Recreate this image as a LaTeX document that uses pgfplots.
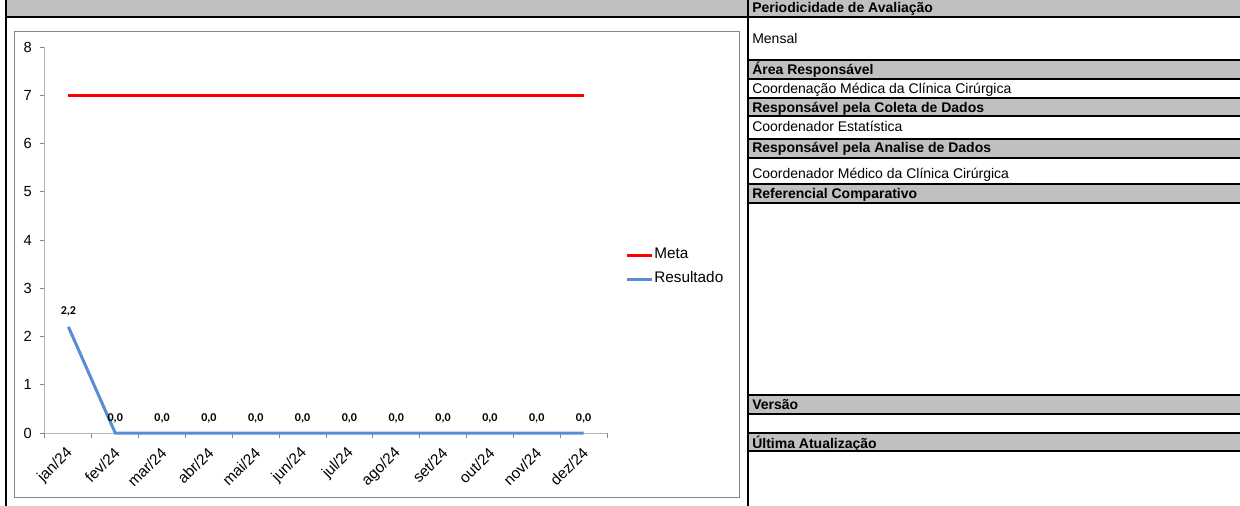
\documentclass[border=0pt]{standalone}
\usepackage{fontspec}
\setmainfont{Liberation Sans}
\newfontfamily\calibri{Carlito}
\usepackage{pgfplots}
\pgfplotsset{compat=1.18}

\definecolor{hdrgray}{RGB}{192,192,192}
\definecolor{axisgray}{RGB}{134,134,134}
\definecolor{framegray}{RGB}{134,134,134}
\definecolor{metared}{RGB}{255,0,0}
\definecolor{resblue}{RGB}{85,142,213}

\begin{document}
\begin{tikzpicture}
% sheet grid, in pixels of the reference (1px = 0.75pt, y down)
\begin{scope}[x=0.75pt,y=-0.75pt]
  \path[use as bounding box] (0,0) rectangle (1240,506);
  % gray bands
  \fill[hdrgray] (7,0) rectangle (1240,16);
  \foreach \a/\b in {61/78, 98/115, 139/157, 185/202, 396/413, 433/451}
    \fill[hdrgray] (748,\a) rectangle (1240,\b);
  % black rules
  \draw[line width=1.5pt] (5,16.8) -- (1240,16.8);
  \foreach \yy in {60,79,97.8,115.8,138.7,158,183.7,203,395,413.7,432.5,451}
    \draw[line width=1.5pt] (748,\yy) -- (1240,\yy);
  \draw[line width=1.5pt] (6,0) -- (6,506);
  \draw[line width=1.5pt] (747.5,0) -- (747.5,506);
  % chart frame
  \draw[framegray, line width=0.75pt] (14.5,31.5) rectangle (739.5,497.5);
  % panel text
  \begin{scope}[every node/.style={anchor=base west, inner sep=0pt, font=\fontsize{10.5}{12}\selectfont}]
    \node at (752,12.5) {\bfseries Periodicidade de Avaliação};
    \node at (752,44) {Mensal};
    \node at (752,74.5) {\bfseries Área Responsável};
    \node at (752,94) {Coordenação Médica da Clínica Cirúrgica};
    \node at (752,112.5) {\bfseries Responsável pela Coleta de Dados};
    \node at (752,132) {Coordenador Estatística};
    \node at (752,153) {\bfseries Responsável pela Analise de Dados};
    \node at (752,179) {Coordenador Médico da Clínica Cirúrgica};
    \node at (752,199) {\bfseries Referencial Comparativo};
    \node at (752,409) {\bfseries Versão};
    \node at (752,448) {\bfseries Última Atualização};
  \end{scope}
\end{scope}

\begin{axis}[
    at={(33.75pt,-324.75pt)}, anchor=south west,
    scale only axis,
    width=421.5pt, height=289.5pt,
    xmin=-0.5, xmax=11.5,
    ymin=0, ymax=8,
    axis x line=bottom, axis y line=left,
    axis line style={-, draw=axisgray!60, line width=0.75pt},
    tick align=outside,
    tick style={draw=axisgray, line width=0.75pt},
    major tick length=3.75pt,
    minor tick length=3.75pt,
    xtick={0,...,11},
    major x tick style={draw=none},
    minor xtick={-0.5,0.5,...,11.5},
    xticklabels={jan/24,fev/24,mar/24,abr/24,mai/24,jun/24,jul/24,ago/24,set/24,out/24,nov/24,dez/24},
    xticklabel style={xshift=1.5pt, yshift=-9pt, rotate=45, anchor=east, inner sep=0pt,
      font=\fontsize{11.5}{13}\selectfont},
    ytick={0,...,8},
    yticklabel style={anchor=east, inner sep=0pt, xshift=-6pt, font=\fontsize{11}{13}\selectfont},
    /pgf/number format/assume math mode=true,
    clip=false,
    legend style={draw=none, fill=none, at={(1.0320,0.4300)}, anchor=west,
      inner sep=0pt, row sep=8.8pt,
      nodes={inner xsep=0.5pt, inner ysep=0pt, text height=7.2pt, text depth=2pt},
      font=\fontsize{11.5}{13}\selectfont},
    legend cell align=left,
    legend image code/.code={\draw[#1, line width=2.25pt] (0pt,0pt) -- (19pt,0pt);},
]
\addplot[metared, line width=2.25pt] coordinates {
  (0,7)(1,7)(2,7)(3,7)(4,7)(5,7)(6,7)(7,7)(8,7)(9,7)(10,7)(11,7)
};
\addlegendentry{Meta}
\addplot[resblue, line width=2.25pt,
    nodes near coords,
    every node near coord/.append style={black, anchor=base, yshift=9pt,
      font=\calibri\bfseries\fontsize{9}{10}\selectfont,
      /pgf/number format/.cd, fixed, fixed zerofill, precision=1, use comma},
  ] coordinates {
  (0,2.2)(1,0)(2,0)(3,0)(4,0)(5,0)(6,0)(7,0)(8,0)(9,0)(10,0)(11,0)
};
\addlegendentry{Resultado}
\end{axis}
\end{tikzpicture}
\end{document}
